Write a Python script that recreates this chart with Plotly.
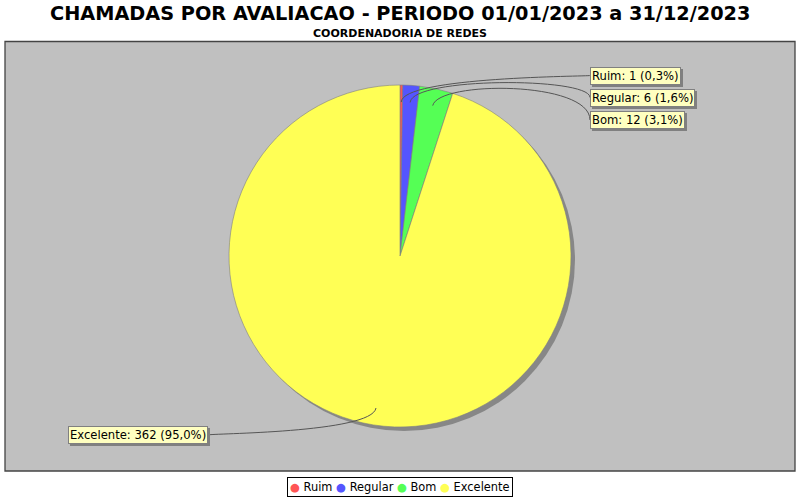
import math
import plotly.graph_objects as go

# ---- data ----
categories = ["Ruim", "Regular", "Bom", "Excelente"]
values = [1, 6, 12, 362]
colors = ["#FF5555", "#5555FF", "#55FF55", "#FFFF55"]
title_text = "CHAMADAS POR AVALIACAO - PERIODO 01/01/2023 a 31/12/2023"
subtitle_text = "COORDENADORIA DE REDES"

# ---- layout constants (pixels) ----
W, H = 800, 500
CX, CY, R = 400, 256, 171
LINK_R = 0.9 * R
ELBOW_R = 1.05 * R
right_label_x = 590
left_label_x = 208
label_y = [75.5, 97.5, 120, 435]
FONT = "DejaVu Sans"


def px(x):
    return x / W


def py(y):
    return 1 - y / H


total = sum(values)
fig = go.Figure()

# shadow of the pie
fig.add_trace(go.Pie(
    values=[1], labels=["shadow"],
    marker=dict(colors=["#878787"], line=dict(width=0)),
    domain=dict(x=[px(CX - R + 4), px(CX + R + 4)], y=[py(CY + R + 4), py(CY - R + 4)]),
    textinfo="none", hoverinfo="skip", showlegend=False, sort=False,
))

fig.add_trace(go.Pie(
    labels=categories, values=values,
    marker=dict(colors=colors, line=dict(color="#808080", width=0.6)),
    domain=dict(x=[px(CX - R), px(CX + R)], y=[py(CY + R), py(CY - R)]),
    sort=False, direction="clockwise", rotation=0,
    textinfo="none", showlegend=False,
))

shapes = [dict(type="rect", xref="paper", yref="paper",
               x0=px(5), x1=px(795), y0=py(471), y1=py(41.5),
               fillcolor="#C0C0C0", line=dict(color="#444444", width=1.3), layer="below")]
annotations = []

cum = 0
for cat, v, ly in zip(categories, values, label_y):
    frac_mid = (cum + v / 2) / total
    cum += v
    ang = 2 * math.pi * frac_mid  # clockwise from top
    lx0 = CX + LINK_R * math.sin(ang)
    ly0 = CY - LINK_R * math.cos(ang)
    ex = CX + ELBOW_R * math.sin(ang)
    ey = CY - ELBOW_R * math.cos(ang)
    right = math.sin(ang) >= 0
    tx = right_label_x if right else left_label_x
    path = "M {:.4f},{:.4f} C {:.4f},{:.4f} {:.4f},{:.4f} {:.4f},{:.4f}".format(
        px(lx0), py(ly0), px(ex), py(ey), px(tx), py(ey), px(tx), py(ly))
    shapes.append(dict(type="path", xref="paper", yref="paper", path=path,
                       line=dict(color="#555555", width=1), layer="above"))
    pct = 100 * v / total
    txt = f"{cat}: {v} ({pct:.1f}%)".replace(".", ",")
    for shadow in (True, False):
        annotations.append(dict(
            xref="paper", yref="paper", x=px(tx), y=py(ly),
            xanchor="left" if right else "right", yanchor="middle",
            text=txt, showarrow=False,
            font=dict(family=FONT, size=11.6, color="#808080" if shadow else "black"),
            bgcolor="#808080" if shadow else "#FFFFC0",
            bordercolor="#808080", borderwidth=1, borderpad=1,
            xshift=2 if shadow else 0, yshift=-2 if shadow else 0,
        ))

# titles
annotations.append(dict(xref="paper", yref="paper", x=0.5, y=py(13), xanchor="center", yanchor="middle",
                        text=f"<b>{title_text}</b>", showarrow=False,
                        font=dict(family=FONT, size=19.3, color="black")))
annotations.append(dict(xref="paper", yref="paper", x=0.5, y=py(33), xanchor="center", yanchor="middle",
                        text=f"<b>{subtitle_text}</b>", showarrow=False,
                        font=dict(family=FONT, size=11, color="black")))

# legend
legend_text = " ".join(f"<span style='color:{c}'>●</span> {cat}" for cat, c in zip(categories, colors))
annotations.append(dict(xref="paper", yref="paper", x=0.5, y=py(487), xanchor="center", yanchor="middle",
                        text=legend_text, showarrow=False,
                        font=dict(family=FONT, size=11.4, color="black"),
                        bgcolor="white", bordercolor="black", borderwidth=1, borderpad=2))

fig.update_layout(
    width=W, height=H,
    margin=dict(l=0, r=0, t=0, b=0),
    paper_bgcolor="white",
    showlegend=False,
    shapes=shapes,
    annotations=annotations,
)

fig.write_html("out.html", config={"displayModeBar": False},
               post_script="document.body.style.margin='0px';")
